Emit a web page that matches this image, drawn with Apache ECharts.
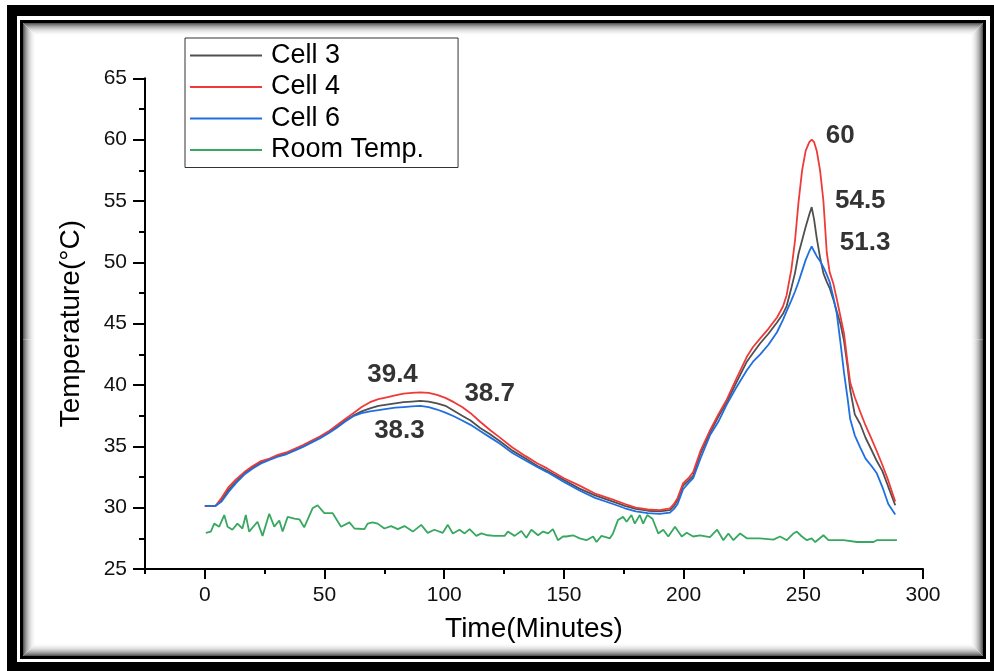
<!DOCTYPE html>
<html>
<head>
<meta charset="utf-8">
<script src="https://cdn.jsdelivr.net/npm/echarts@6/dist/echarts.min.js"></script>
<style>
html,body{margin:0;padding:0;background:#fff;}
#chart{width:994px;height:671px;}
</style>
</head>
<body>
<div id="chart"></div>
<script>
// ---- data ----
var seriesNames = ['Cell 3', 'Cell 4', 'Cell 6', 'Room Temp.'];
var cellTime = [0,4.5,7,10,13,16.5,20,23.5,27,30.5,34,37.5,41,44.5,48,51.5,55,58.5,62,65.5,69,72.5,76,79.5,83,86.5,90,93.5,97,100.5,104,107.5,111,115,119,123,128.5,134,139,143,150,156.5,163,170.5,175.5,180,185,190,194.3,196,197.5,199.8,202,204,207,211,214.5,218,222,226.4,229,232,235.5,239,241.5,243,245,246.5,248,249.5,251,252.5,253.5,254.5,255.6,257,258.4,259.8,261,262.5,264,265.5,267,268.5,269.6,271.5,273.8,276,278.5,280.7,283,285.5,288.4];
var cell3Temp = [30.15,30.15,30.6,31.5,32.1,32.8,33.3,33.7,33.95,34.2,34.4,34.7,35.0,35.35,35.7,36.1,36.6,37.1,37.5,37.85,38.1,38.3,38.4,38.5,38.6,38.65,38.7,38.65,38.5,38.3,37.9,37.5,37.1,36.5,36.0,35.45,34.65,34.0,33.4,33.0,32.25,31.55,31.0,30.5,30.15,29.9,29.75,29.7,29.8,30.15,30.6,31.8,32.2,32.6,34.4,36.1,37.4,38.6,40.2,41.9,42.6,43.4,44.2,45.1,45.8,46.4,47.9,49.1,50.7,51.8,52.9,53.9,54.5,53.5,52.0,50.4,49.1,48.4,47.9,47.0,46.0,45.0,43.6,41.5,39.6,37.6,36.8,35.7,34.7,33.8,33.0,31.7,30.2];
var cell4Temp = [30.15,30.15,30.8,31.7,32.3,32.9,33.4,33.8,34.0,34.3,34.5,34.8,35.1,35.45,35.8,36.2,36.7,37.2,37.7,38.2,38.6,38.85,39.0,39.15,39.3,39.35,39.4,39.35,39.2,38.95,38.6,38.2,37.7,37.0,36.35,35.75,34.9,34.2,33.6,33.2,32.4,31.8,31.15,30.65,30.3,30.0,29.85,29.8,29.95,30.3,30.8,32.0,32.4,32.9,34.6,36.3,37.6,38.8,40.5,42.3,43.1,43.8,44.6,45.5,46.4,47.3,49.4,51.7,54.9,57.5,59.1,59.8,60.0,59.8,59.1,57.5,55.0,50.8,49.2,48.3,47.0,45.6,44.2,41.8,40.2,39.0,37.8,36.7,35.6,34.6,33.5,32.2,30.5];
var cell6Temp = [30.15,30.15,30.5,31.3,32.0,32.7,33.2,33.6,33.9,34.15,34.35,34.65,34.95,35.3,35.65,36.05,36.5,37.0,37.45,37.7,37.85,37.95,38.05,38.15,38.2,38.25,38.3,38.2,38.0,37.75,37.45,37.1,36.75,36.25,35.75,35.25,34.45,33.85,33.3,32.9,32.1,31.4,30.8,30.3,29.95,29.7,29.55,29.5,29.6,29.9,30.3,31.5,32.0,32.4,34.0,35.9,37.0,38.4,39.8,41.2,41.9,42.5,43.3,44.3,45.3,46.0,46.9,47.6,48.4,49.3,50.2,50.9,51.3,50.9,50.5,50.1,49.6,49.0,48.4,47.2,45.8,43.5,41.0,38.9,37.2,35.9,34.9,34.0,33.4,32.8,31.7,30.3,29.45];
var roomTime = [0.4,2.5,3.9,6,8.1,9.5,11.5,13.6,15.7,17.1,18.5,22,24.1,26.9,29,31.1,32.5,34.6,37.4,39.5,41.5,45,47.1,49.9,53.4,56.9,60.4,62.5,66.7,68,70.1,72.2,75,77.8,80.6,83.4,86.9,90.4,93.1,95.9,99.4,101.5,103.6,106.4,108.5,110.6,113.4,115.5,118.2,121,125.2,126.6,129.4,132.2,134.3,136.4,139.2,141.3,143.4,145.4,147.5,149.6,151,153.8,156.6,159.4,162.2,163.6,165.7,169.2,170.5,172.6,174.7,176.2,178.2,179.6,181.7,183.1,184.8,187,189.4,191.5,193.6,196.4,199.2,201.3,204,206.8,211,214,216.6,218.7,220.8,223.6,226.4,231.9,237.5,240.3,243.1,245.9,247.3,249.4,251.5,253.5,255,258.4,260.5,266.8,272.4,279.3,280.7,289.1];
var roomTemp = [27.95,28.05,28.7,28.45,29.4,28.45,28.2,28.7,28.3,29.4,28.05,28.85,27.7,29.5,28.45,28.95,28.05,29.25,29.1,29.05,28.4,29.95,30.2,29.55,29.55,28.45,28.8,28.3,28.25,28.7,28.8,28.7,28.3,28.5,28.25,28.5,28.05,28.6,27.95,28.2,27.95,28.6,27.9,28.2,27.9,28.25,27.7,27.9,27.75,27.7,27.7,28.05,27.7,28.1,27.55,28.2,27.75,28.05,27.9,28.25,27.35,27.65,27.65,27.75,27.5,27.35,27.65,27.2,27.7,27.5,27.9,29.0,29.25,28.85,29.4,28.7,29.4,28.7,29.4,29.1,27.9,28.2,27.65,28.45,27.65,27.95,27.65,27.75,27.6,28.2,27.35,27.9,27.35,27.9,27.5,27.5,27.4,27.65,27.35,27.9,28.05,27.65,27.35,27.5,27.2,27.75,27.35,27.35,27.2,27.2,27.35,27.35];
var labelText = ['60', '54.5', '51.3', '39.4', '38.7', '38.3'];
var labelX = [265.4, 273.8, 275.8, 78.4, 119, 81.3];
var labelY = [60.3, 55.05, 51.55, 40.8, 39.3, 36.3];
var xTickMajor = [0, 50, 100, 150, 200, 250, 300];

// ---- build ----
function pairs(xs, ys) { return xs.map(function (x, i) { return [x, ys[i]]; }); }
var colors = ['#505050', '#ef3a3a', '#1f6fe0', '#38a860'];
var temps = [cell3Temp, cell4Temp, cell6Temp, roomTemp];
var times = [cellTime, cellTime, cellTime, roomTime];
var FONT = '"Liberation Sans", Arial, sans-serif';

var series = seriesNames.map(function (n, i) {
  return {
    name: n, type: 'line', xAxisIndex: 0, yAxisIndex: 0,
    data: pairs(times[i], temps[i]),
    showSymbol: false, symbol: 'none', smooth: false, silent: true,
    color: colors[i],
    lineStyle: { color: colors[i], width: 1.8 },
    z: 2 + i
  };
});
series.push({
  name: 'labels', type: 'scatter', xAxisIndex: 0, yAxisIndex: 0, silent: true,
  symbolSize: 0, itemStyle: { color: '#000' },
  data: labelText.map(function (t, i) {
    return { value: [labelX[i], labelY[i]], label: { formatter: t } };
  }),
  label: { show: true, position: 'inside', color: '#000', textBorderWidth: 0, fontWeight: 'bold', fontSize: 26, fontFamily: FONT },
  z: 10
});

// frame graphics
var g = [];
g.push({ type: 'rect', z: -20, silent: true, shape: { x: 7, y: 5, width: 987, height: 666 }, style: { fill: '#000' } });
g.push({ type: 'rect', z: -19, silent: true, shape: { x: 17, y: 16, width: 973, height: 646 }, style: { fill: '#fff' } });
g.push({ type: 'rect', z: -18, silent: true, shape: { x: 20, y: 20, width: 966, height: 639 }, style: { fill: '#000' } });
g.push({ type: 'rect', z: -17, silent: true, shape: { x: 23, y: 23, width: 960, height: 633 }, style: { fill: '#fff' } });
var shades = ['#5a5a5a', '#767676', '#8e8e8e', '#a3a3a3', '#b6b6b6', '#c6c6c6', '#d4d4d4', '#e0e0e0', '#e9e9e9', '#f1f1f1', '#f7f7f7', '#fcfcfc'];
shades.forEach(function (c, i) {
  g.push({ type: 'rect', z: -16, silent: true,
    shape: { x: 23 + i + 0.5, y: 23 + i + 0.5, width: 960 - 2 * i - 1, height: 633 - 2 * i - 1 },
    style: { fill: null, stroke: c, lineWidth: 1 } });
});

var axisCol = '#000';
var option = {
  animation: false,
  backgroundColor: '#fff',
  graphic: { elements: g },
  grid: { left: 145, right: 71, top: 78.3, bottom: 102, containLabel: false, outerBoundsMode: 'none' },
  legend: {
    data: seriesNames, orient: 'vertical', left: 185, top: 38,
    icon: 'rect', itemWidth: 72, itemHeight: 2, itemGap: 4.5,
    padding: [4, 34, 4, 5],
    borderColor: '#333', borderWidth: 1, backgroundColor: '#fff', borderRadius: 0,
    textStyle: { fontSize: 27, fontFamily: FONT, color: '#000', lineHeight: 27, padding: [0, 0, 0, 4] },
    selectedMode: false, z: 20
  },
  xAxis: [{
    type: 'value', min: -25, max: 300, interval: 25,
    name: 'Time(Minutes)', nameLocation: 'middle', nameGap: 46,
    nameTextStyle: { fontSize: 28, fontFamily: FONT, color: '#000' },
    axisLine: { show: true, onZero: false, lineStyle: { color: axisCol, width: 2 } },
    axisTick: { show: true, inside: false, length: 5, lineStyle: { color: axisCol, width: 2 } },
    axisLabel: { fontSize: 21, fontFamily: FONT, color: '#111', margin: 16,
      formatter: function (v) { return (v >= 0 && v % 50 === 0) ? String(v) : ''; } },
    splitLine: { show: false }
  }, {
    type: 'value', min: -25, max: 300, position: 'bottom',
    axisLine: { show: false },
    axisTick: { show: true, inside: false, length: 10, customValues: xTickMajor, lineStyle: { color: axisCol, width: 2 } },
    axisLabel: { show: false },
    splitLine: { show: false }
  }],
  yAxis: {
    type: 'value', min: 25, max: 65, interval: 5,
    name: 'Temperature(\u00B0C)', nameLocation: 'middle', nameGap: 60, nameRotate: 90,
    nameTextStyle: { fontSize: 28, fontFamily: FONT, color: '#000' },
    axisLine: { show: true, onZero: false, lineStyle: { color: axisCol, width: 2 } },
    axisTick: { show: true, inside: false, length: 12, lineStyle: { color: axisCol, width: 2 } },
    minorTick: { show: true, splitNumber: 2, length: 6, lineStyle: { color: axisCol, width: 2 } },
    axisLabel: { fontSize: 21, fontFamily: FONT, color: '#111', margin: 18 },
    splitLine: { show: false }, minorSplitLine: { show: false }
  },
  series: series
};
var chart = echarts.init(document.getElementById('chart'), null, { renderer: 'canvas' });
chart.setOption(option);
</script>
</body>
</html>
